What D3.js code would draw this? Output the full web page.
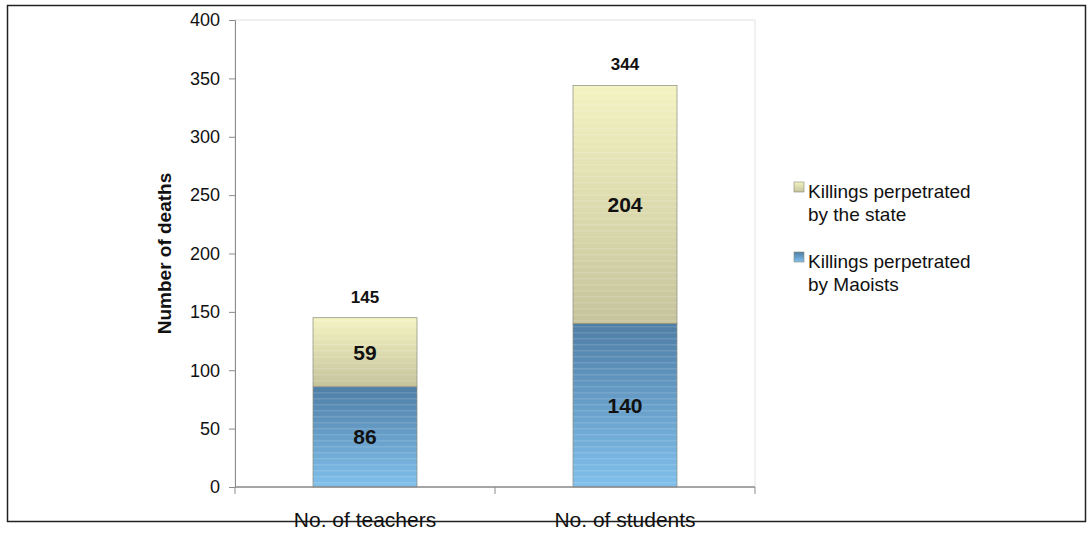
<!DOCTYPE html>
<html>
<head>
<meta charset="utf-8">
<script src="https://cdn.jsdelivr.net/npm/d3@7"></script>
<style>
  body { margin: 0; background: #fff; }
  text { font-family: "Liberation Sans", Arial, sans-serif; fill: #111; }
</style>
</head>
<body>
<div id="chart"></div>
<script>
// data
var categories = ["No. of teachers", "No. of students"];
var maoists = [86, 140];
var state = [59, 204];
var totals = [145, 344];
var yTicks = [0, 50, 100, 150, 200, 250, 300, 350, 400];
var seriesNames = ["Killings perpetrated by Maoists", "Killings perpetrated by the state"];

var W = 1090, H = 545;
var margin = {top: 20, right: 335, bottom: 58, left: 235},
    width = W - margin.left - margin.right,
    height = H - margin.top - margin.bottom;

var svg = d3.select("#chart").append("svg")
    .attr("width", W)
    .attr("height", H);

// outer frame
svg.append("rect")
  .attr("x", 7.5).attr("y", 5.5)
  .attr("width", 1078).attr("height", 516)
  .attr("fill", "none").attr("stroke", "#222").attr("stroke-width", 1.5);

var defs = svg.append("defs");
var gBlue = defs.append("linearGradient").attr("id", "gBlue")
  .attr("x1", 0).attr("y1", 0).attr("x2", 0).attr("y2", 1);
gBlue.append("stop").attr("offset", "0%").attr("stop-color", "#4f7ea6");
gBlue.append("stop").attr("offset", "100%").attr("stop-color", "#80c0ec");
var gYel = defs.append("linearGradient").attr("id", "gYel")
  .attr("x1", 0).attr("y1", 0).attr("x2", 0).attr("y2", 1);
gYel.append("stop").attr("offset", "0%").attr("stop-color", "#f3f3c2");
gYel.append("stop").attr("offset", "100%").attr("stop-color", "#c6c39b");

// faint stripes like the scanned original
var stripes = defs.append("pattern").attr("id", "stripes")
  .attr("patternUnits", "userSpaceOnUse").attr("width", 8).attr("height", 6);
stripes.append("rect").attr("width", 8).attr("height", 1.5)
  .attr("fill", "#fff").attr("opacity", 0.12);

var g = svg.append("g")
  .attr("transform", "translate(" + margin.left + "," + margin.top + ")");

var x = d3.scaleBand()
  .domain(categories)
  .range([0, width])
  .paddingInner(0.6)
  .paddingOuter(0.3);

var y = d3.scaleLinear()
  .domain([0, 400])
  .range([height, 0]);

// plot area frame
g.append("rect")
  .attr("width", width).attr("height", height)
  .attr("fill", "none").attr("stroke", "#e2e2e2");

var data = categories.map(function(c, i) {
  return {cat: c, maoists: maoists[i], state: state[i], total: totals[i]};
});
var stacked = d3.stack().keys(["maoists", "state"])(data);
var fills = {maoists: "url(#gBlue)", state: "url(#gYel)"};

var layers = g.selectAll(".layer")
  .data(stacked)
  .enter().append("g")
  .attr("class", "layer");

layers.selectAll("rect.bar")
  .data(function(d) { return d.map(function(p) { p.key = d.key; return p; }); })
  .enter().append("rect")
  .attr("class", "bar")
  .attr("x", function(d) { return x(d.data.cat); })
  .attr("y", function(d) { return y(d[1]); })
  .attr("width", x.bandwidth())
  .attr("height", function(d) { return y(d[0]) - y(d[1]); })
  .attr("fill", function(d) { return fills[d.key]; })
  .attr("stroke", "#8a8a7a")
  .attr("stroke-width", 0.7);

layers.selectAll("rect.str")
  .data(function(d) { return d; })
  .enter().append("rect")
  .attr("class", "str")
  .attr("x", function(d) { return x(d.data.cat); })
  .attr("y", function(d) { return y(d[1]); })
  .attr("width", x.bandwidth())
  .attr("height", function(d) { return y(d[0]) - y(d[1]); })
  .attr("fill", "url(#stripes)");

// segment labels
layers.selectAll("text.val")
  .data(function(d) { return d; })
  .enter().append("text")
  .attr("class", "val")
  .attr("x", function(d) { return x(d.data.cat) + x.bandwidth() / 2; })
  .attr("y", function(d) { return (y(d[0]) + y(d[1])) / 2; })
  .attr("dy", "0.35em")
  .attr("text-anchor", "middle")
  .style("font-size", "21px")
  .style("font-weight", "bold")
  .text(function(d) { return d[1] - d[0]; });

// totals
g.selectAll("text.total")
  .data(data)
  .enter().append("text")
  .attr("class", "total")
  .attr("x", function(d) { return x(d.cat) + x.bandwidth() / 2; })
  .attr("y", function(d) { return y(d.total) - 15; })
  .attr("text-anchor", "middle")
  .style("font-size", "17px")
  .style("font-weight", "bold")
  .text(function(d) { return d.total; });

// y axis
var yAxis = g.append("g")
  .call(d3.axisLeft(y).tickValues(yTicks).tickSize(6).tickPadding(9));
yAxis.select(".domain").attr("stroke", "#8c8c8c");
yAxis.selectAll(".tick line").attr("stroke", "#8c8c8c");
yAxis.selectAll(".tick text").style("font-size", "18px").style("font-family", "Liberation Sans, Arial, sans-serif").attr("fill", "#111");

// x axis: ticks between categories like Excel
var xAxisG = g.append("g").attr("transform", "translate(0," + height + ")");
xAxisG.append("line")
  .attr("x1", 0).attr("x2", width)
  .attr("stroke", "#8c8c8c").attr("stroke-width", 1.5);
var bounds = [0, width / 2, width];
xAxisG.selectAll("line.tk")
  .data(bounds)
  .enter().append("line")
  .attr("class", "tk")
  .attr("x1", function(d) { return d; }).attr("x2", function(d) { return d; })
  .attr("y1", 0).attr("y2", 7)
  .attr("stroke", "#8c8c8c");
xAxisG.selectAll("text.cat")
  .data(categories)
  .enter().append("text")
  .attr("class", "cat")
  .attr("x", function(d) { return x(d) + x.bandwidth() / 2; })
  .attr("y", 40)
  .attr("text-anchor", "middle")
  .style("font-size", "21px")
  .text(function(d) { return d; });

// y title
svg.append("text")
  .attr("transform", "translate(171," + (margin.top + height / 2) + ") rotate(-90)")
  .attr("text-anchor", "middle")
  .style("font-size", "19px")
  .style("font-weight", "bold")
  .text("Number of deaths");

// legend
var legend = [
  {name: seriesNames[1], fill: "url(#gYel)", y: 182},
  {name: seriesNames[0], fill: "url(#gBlue)", y: 252}
];
var lg = svg.selectAll("g.leg")
  .data(legend)
  .enter().append("g")
  .attr("class", "leg")
  .attr("transform", function(d) { return "translate(794," + d.y + ")"; });
lg.append("rect")
  .attr("width", 10).attr("height", 10)
  .attr("fill", function(d) { return d.fill; })
  .attr("stroke", "#8a8a7a").attr("stroke-width", 0.6);
lg.append("text")
  .attr("x", 14).attr("y", 16)
  .style("font-size", "19px")
  .text(function(d) { return d.name.replace(/ by .*/, ""); });
lg.append("text")
  .attr("x", 14).attr("y", 39)
  .style("font-size", "19px")
  .text(function(d) { return d.name.replace(/^.* (by .*)$/, "$1"); });
</script>
</body>
</html>
